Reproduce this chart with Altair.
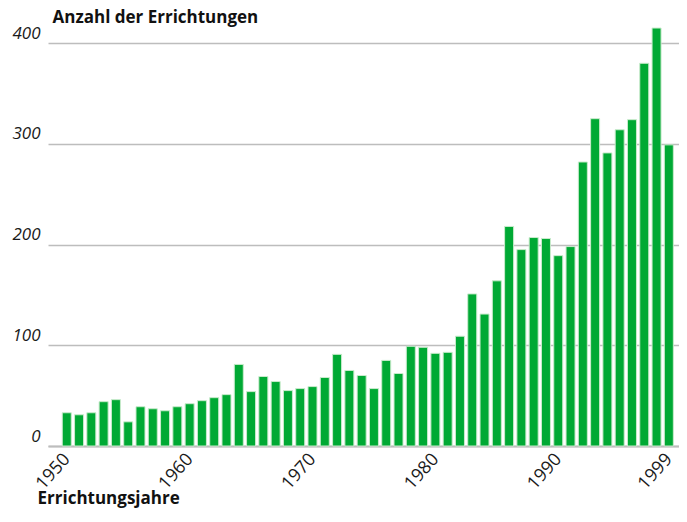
import altair as alt
import pandas as pd

years = list(range(1950, 2000))
counts = [33, 31, 33, 44, 46, 24, 39, 37, 35, 39,
          42, 45, 48, 51, 81, 54, 69, 64, 55, 57,
          59, 68, 91, 75, 70, 57, 85, 72, 99, 98,
          92, 93, 109, 151, 131, 164, 218, 195, 207, 206,
          189, 198, 282, 325, 291, 314, 324, 380, 415, 299]
x_ticks = [1950, 1960, 1970, 1980, 1990, 1999]
y_ticks = [0, 100, 200, 300, 400]

df = pd.DataFrame({"Jahr": years, "Anzahl": counts})

FONT = "Open Sans"

chart = alt.Chart(df).mark_bar(
    width=9, color="#00a934", stroke="#c9ebcc", strokeWidth=1
).encode(
    x=alt.X("Jahr:Q",
            scale=alt.Scale(domain=[1948.88, 1999.42], nice=False, zero=False),
            axis=alt.Axis(values=x_ticks, format="d", grid=False, ticks=False,
                          domainColor="#bdbdbd", domainWidth=2,
                          labelAngle=-48, labelAlign="right", labelBaseline="middle",
                          labelFont=FONT, labelFontSize=18, labelColor="#1a1a1a",
                          labelPadding=10, labelOffset=0, labelFlush=False, labelOverlap=False,
                          title="Errichtungsjahre", titleFont=FONT, titleFontSize=17,
                          titleFontWeight="bold", titleColor="#111111",
                          titleAnchor="start", titleAlign="left", titleBaseline="alphabetic",
                          titleX=-11, titleY=57)),
    y=alt.Y("Anzahl:Q",
            scale=alt.Scale(domain=[0, 420], nice=False),
            axis=alt.Axis(values=y_ticks, grid=True, gridColor="#bdbdbd", gridWidth=1.5,
                          domain=False, ticks=False,
                          labelFont=FONT, labelFontSize=17, labelFontStyle="italic",
                          labelColor="#1a1a1a", labelAlign="right",
                          labelBaseline="alphabetic", labelOffset=-5, labelPadding=8,
                          title="Anzahl der Errichtungen", titleFont=FONT, titleFontSize=17,
                          titleFontWeight="bold", titleColor="#111111",
                          titleAngle=0, titleAlign="left", titleBaseline="alphabetic",
                          titleAnchor="start", titleX=4, titleY=-1)),
).properties(
    width=631,
    height=423,
    autosize=alt.AutoSizeParams(type="none"),
    padding={"left": 40, "top": 15, "right": 0, "bottom": 62},
).configure_view(stroke=None)

chart.save("out.html", embed_options={"renderer": "svg", "actions": False})
